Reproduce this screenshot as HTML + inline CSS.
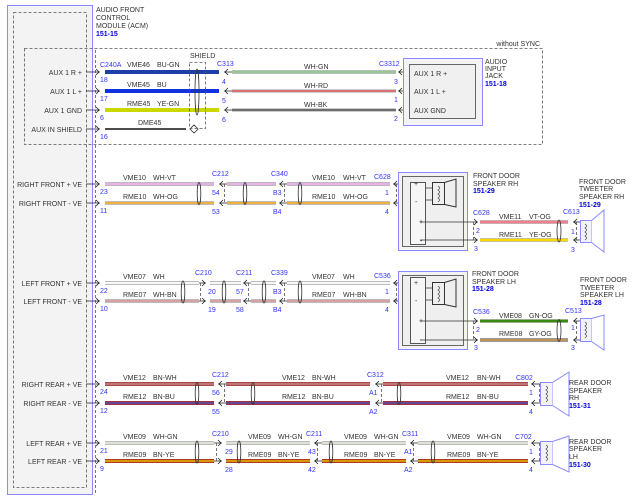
<!DOCTYPE html>
<html><head><meta charset="utf-8"><style>
body{margin:0;background:#fff}
svg{display:block}
text{font-family:"Liberation Sans",sans-serif;font-size:7px;fill:#333}
.b{fill:#3333ff}
.bb{fill:#0000dd;font-weight:bold}
.r{text-anchor:end}
.d{fill:none;stroke:#555;stroke-width:0.8;stroke-dasharray:3,2}
.o{fill:none;stroke:#333;stroke-width:0.8}
.tw{fill:none;stroke:#333;stroke-width:0.8}
</style></head><body>
<svg width="640" height="500" viewBox="0 0 640 500" xmlns="http://www.w3.org/2000/svg">
<!-- module -->
<rect x="7.5" y="5.5" width="85" height="489" fill="#f3f3f3" stroke="#8a8aff" stroke-width="1"/>
<rect x="13.5" y="12.5" width="73" height="475" class="d"/>
<line x1="95.5" y1="50" x2="95.5" y2="495" class="d"/>
<text x="96" y="12">AUDIO FRONT</text><text x="96" y="20">CONTROL</text><text x="96" y="28">MODULE (ACM)</text><text x="96" y="36" class="bb">151-15</text>
<rect x="24.5" y="48.5" width="518" height="96" class="d"/>
<text x="540" y="46" class="r">without SYNC</text>

<g>
<text x="82" y="75" class="r">AUX 1 R +</text><text x="82" y="94" class="r">AUX 1 L +</text><text x="82" y="113" class="r">AUX 1 GND</text><text x="82" y="132" class="r">AUX IN SHIELD</text>
<text x="82" y="187" class="r">RIGHT FRONT + VE</text><text x="82" y="206" class="r">RIGHT FRONT - VE</text>
<text x="82" y="286" class="r">LEFT FRONT + VE</text><text x="82" y="304" class="r">LEFT FRONT - VE</text>
<text x="82" y="387" class="r">RIGHT REAR + VE</text><text x="82" y="406" class="r">RIGHT REAR - VE</text>
<text x="82" y="446" class="r">LEFT REAR + VE</text><text x="82" y="464" class="r">LEFT REAR - VE</text>
</g>
<g stroke="#222" stroke-width="0.8" fill="none">
<path d="M86,72H100M96,69l3,3l-3,3M86,91H100M96,88l3,3l-3,3M86,110H100M96,107l3,3l-3,3M86,129H100M96,126l3,3l-3,3"/>
<path d="M86,184H100M96,181l3,3l-3,3M86,203H100M96,200l3,3l-3,3M86,283H100M96,280l3,3l-3,3M86,301H100M96,298l3,3l-3,3"/>
<path d="M86,384H100M96,381l3,3l-3,3M86,403H100M96,400l3,3l-3,3M86,443H100M96,440l3,3l-3,3M86,461H100M96,458l3,3l-3,3"/>
</g>
<g>
<text x="100" y="82" class="b">18</text><text x="100" y="101" class="b">17</text><text x="100" y="120" class="b">6</text><text x="100" y="139" class="b">16</text>
<text x="100" y="194" class="b">23</text><text x="100" y="213" class="b">11</text><text x="100" y="293" class="b">22</text><text x="100" y="311" class="b">10</text>
<text x="100" y="394" class="b">24</text><text x="100" y="413" class="b">12</text><text x="100" y="453" class="b">21</text><text x="100" y="471" class="b">9</text>
</g>

<!-- TOP SECTION wires -->
<g stroke-linecap="butt">
<line x1="105" y1="72" x2="219" y2="72" stroke="#1f3fa8" stroke-width="4"/>
<line x1="105" y1="91" x2="219" y2="91" stroke="#1133dd" stroke-width="4"/>
<line x1="105" y1="110" x2="219" y2="110" stroke="#c8d800" stroke-width="4"/>
<line x1="105" y1="129" x2="186" y2="129" stroke="#111" stroke-width="1.6"/>
<line x1="232" y1="72" x2="396" y2="72" stroke="#bbb" stroke-width="4"/><line x1="232" y1="72" x2="396" y2="72" stroke="#88cc88" stroke-width="1.5"/>
<line x1="232" y1="91" x2="396" y2="91" stroke="#ccc" stroke-width="4"/><line x1="232" y1="91" x2="396" y2="91" stroke="#e04040" stroke-width="1.2"/>
<line x1="232" y1="110" x2="396" y2="110" stroke="#ccc" stroke-width="4"/><line x1="232" y1="110" x2="396" y2="110" stroke="#333" stroke-width="1.2"/>
</g>
<path d="M190,129l4,-4l4,4l-4,4z" fill="#fff" stroke="#333" stroke-width="0.8"/>
<rect x="189.5" y="62.5" width="16" height="66" class="d"/>
<ellipse cx="197" cy="92" rx="2" ry="23" class="tw"/>
<text x="190" y="58">SHIELD</text>
<text x="100" y="67" class="b">C240A</text><text x="127" y="67">VME46</text><text x="157" y="67">BU-GN</text>
<text x="127" y="87">VME45</text><text x="157" y="87">BU</text>
<text x="127" y="106">RME45</text><text x="157" y="106">YE-GN</text>
<text x="138" y="125">DME45</text>
<text x="217" y="66" class="b">C313</text>
<text x="222" y="84" class="b">4</text><text x="222" y="103" class="b">5</text><text x="222" y="122" class="b">6</text>
<text x="304" y="69">WH-GN</text><text x="304" y="88">WH-RD</text><text x="304" y="107">WH-BK</text>
<text x="379" y="66" class="b">C3312</text>
<text x="394" y="84" class="b">3</text><text x="394" y="102" class="b">1</text><text x="394" y="121" class="b">2</text>
<g stroke="#222" stroke-width="0.8" fill="none">
<path d="M232,72H224M228,69l-3,3l3,3M232,91H224M228,88l-3,3l3,3M232,110H224M228,107l-3,3l3,3"/>
<path d="M408,72H398M402,69l-3,3l3,3M408,91H398M402,88l-3,3l3,3M408,110H398M402,107l-3,3l3,3"/>
</g>
<rect x="403.5" y="58.5" width="79" height="67" fill="#f3f3f3" stroke="#8a8aff"/>
<rect x="409.5" y="64.5" width="66" height="54" fill="#f0f0f0" stroke="#666"/>
<text x="414" y="76">AUX 1 R +</text><text x="414" y="94">AUX 1 L +</text><text x="414" y="113">AUX GND</text>
<text x="485" y="64">AUDIO</text><text x="485" y="71">INPUT</text><text x="485" y="78">JACK</text><text x="485" y="86" class="bb">151-18</text>

<!-- RIGHT FRONT -->
<g>
<line x1="105" y1="184" x2="214" y2="184" stroke="#bbb" stroke-width="4"/><line x1="105" y1="184" x2="214" y2="184" stroke="#e8b0e8" stroke-width="2"/>
<line x1="105" y1="203" x2="214" y2="203" stroke="#bbb" stroke-width="4"/><line x1="105" y1="203" x2="214" y2="203" stroke="#f0b040" stroke-width="2"/>
<line x1="227" y1="184" x2="276" y2="184" stroke="#bbb" stroke-width="4"/><line x1="227" y1="184" x2="276" y2="184" stroke="#e8b0e8" stroke-width="2"/>
<line x1="227" y1="203" x2="276" y2="203" stroke="#bbb" stroke-width="4"/><line x1="227" y1="203" x2="276" y2="203" stroke="#f0b040" stroke-width="2"/>
<line x1="287" y1="184" x2="390" y2="184" stroke="#bbb" stroke-width="4"/><line x1="287" y1="184" x2="390" y2="184" stroke="#e8b0e8" stroke-width="2"/>
<line x1="287" y1="203" x2="390" y2="203" stroke="#bbb" stroke-width="4"/><line x1="287" y1="203" x2="390" y2="203" stroke="#f0b040" stroke-width="2"/>
</g>
<ellipse cx="199" cy="193.5" rx="1.8" ry="11" class="tw"/><ellipse cx="245" cy="193.5" rx="1.8" ry="11" class="tw"/><ellipse cx="300" cy="193.5" rx="1.8" ry="11" class="tw"/>
<g stroke="#222" stroke-width="0.8" fill="none">
<path d="M227,184H219M223,181l-3,3l3,3M227,203H219M223,200l-3,3l3,3M287,184H279M283,181l-3,3l3,3M287,203H279M283,200l-3,3l3,3M410,184H393M397,181l-3,3l3,3M410,203H393M397,200l-3,3l3,3"/>
</g>
<line x1="224.5" y1="184" x2="224.5" y2="203" class="d"/><line x1="284.5" y1="184" x2="284.5" y2="203" class="d"/><line x1="396.5" y1="184" x2="396.5" y2="203" class="d"/>
<text x="123" y="180">VME10</text><text x="153" y="180">WH-VT</text><text x="123" y="199">RME10</text><text x="153" y="199">WH-OG</text>
<text x="212" y="176" class="b">C212</text><text x="212" y="195" class="b">54</text><text x="212" y="214" class="b">53</text>
<text x="271" y="176" class="b">C340</text><text x="273" y="195" class="b">B3</text><text x="273" y="214" class="b">B4</text>
<text x="312" y="180">VME10</text><text x="343" y="180">WH-VT</text><text x="312" y="199">RME10</text><text x="343" y="199">WH-OG</text>
<text x="374" y="179" class="b">C628</text><text x="385" y="195" class="b">1</text><text x="385" y="214" class="b">4</text>
<rect x="398.5" y="172.5" width="69" height="78" fill="#f3f3f3" stroke="#8a8aff"/>
<rect x="402.5" y="176.5" width="61" height="70" fill="#efefef" stroke="#666"/>
<rect x="410.5" y="182.5" width="15" height="62" fill="#f6f6f6" stroke="#555"/>
<text x="414" y="186">+</text><text x="415" y="204">-</text><text x="419" y="224">+</text><text x="420" y="243">-</text>
<rect x="432.5" y="182.5" width="12" height="22" fill="none" stroke="#333"/>
<path d="M444.5,182.5L456,179V207L444.5,204.5" fill="none" stroke="#333"/>
<path d="M426,188H432M426,200H432M438,186q3,2 0,4q3,2 0,4q3,2 0,4q3,2 0,4" fill="none" stroke="#333" stroke-width="0.7"/>
<path d="M420,222H472M420,240H472" stroke="#333" stroke-width="0.8"/>
<g stroke="#222" stroke-width="0.8" fill="none"><path d="M472,222H478M474,219l3,3l-3,3M472,240H478M474,237l3,3l-3,3M584,222H573M577,219l-3,3l3,3M584,240H573M577,237l-3,3l3,3"/></g>
<line x1="473.5" y1="222" x2="473.5" y2="240" class="d"/><line x1="576.5" y1="222" x2="576.5" y2="240" class="d"/>
<line x1="480" y1="222" x2="568" y2="222" stroke="#bbb" stroke-width="4"/><line x1="480" y1="222" x2="568" y2="222" stroke="#ee8090" stroke-width="2.5"/>
<line x1="480" y1="240" x2="568" y2="240" stroke="#bbb" stroke-width="4"/><line x1="480" y1="240" x2="568" y2="240" stroke="#f8d800" stroke-width="2.5"/>
<ellipse cx="559" cy="231" rx="2" ry="11" class="tw"/>
<text x="473" y="215" class="b">C628</text><text x="476" y="233" class="b">2</text><text x="474" y="251" class="b">3</text>
<text x="499" y="219">VME11</text><text x="529" y="219">VT-OG</text><text x="499" y="237">RME11</text><text x="529" y="237">YE-OG</text>
<text x="563" y="214" class="b">C613</text><text x="571" y="234" class="b">1</text><text x="571" y="252" class="b">3</text>
<rect x="580.5" y="220.5" width="11" height="22" fill="#f3f3f3" stroke="#8a8aff"/>
<path d="M591.5,220.5L604,210V252L591.5,242.5" fill="#fff" stroke="#8a8aff"/>
<path d="M585,224q3,2 0,4q3,2 0,4q3,2 0,4q3,2 0,4" fill="none" stroke="#333" stroke-width="0.7"/>
<text x="473" y="178">FRONT DOOR</text><text x="473" y="186">SPEAKER RH</text><text x="473" y="193" class="bb">151-29</text>
<text x="579" y="184">FRONT DOOR</text><text x="579" y="191">TWEETER</text><text x="579" y="199">SPEAKER RH</text><text x="579" y="207" class="bb">151-29</text>

<!-- LEFT FRONT -->
<g>
<line x1="105" y1="283" x2="199" y2="283" stroke="#bbb" stroke-width="4"/><line x1="105" y1="283" x2="199" y2="283" stroke="#f8f8f8" stroke-width="2"/>
<line x1="105" y1="301" x2="199" y2="301" stroke="#bbb" stroke-width="4"/><line x1="105" y1="301" x2="199" y2="301" stroke="#d8a0a0" stroke-width="2"/>
<line x1="210" y1="283" x2="241" y2="283" stroke="#bbb" stroke-width="4"/><line x1="210" y1="283" x2="241" y2="283" stroke="#f8f8f8" stroke-width="2"/>
<line x1="210" y1="301" x2="241" y2="301" stroke="#bbb" stroke-width="4"/><line x1="210" y1="301" x2="241" y2="301" stroke="#d8a0a0" stroke-width="2"/>
<line x1="251" y1="283" x2="276" y2="283" stroke="#bbb" stroke-width="4"/><line x1="251" y1="283" x2="276" y2="283" stroke="#f8f8f8" stroke-width="2"/>
<line x1="251" y1="301" x2="276" y2="301" stroke="#bbb" stroke-width="4"/><line x1="251" y1="301" x2="276" y2="301" stroke="#d8a0a0" stroke-width="2"/>
<line x1="287" y1="283" x2="390" y2="283" stroke="#bbb" stroke-width="4"/><line x1="287" y1="283" x2="390" y2="283" stroke="#f8f8f8" stroke-width="2"/>
<line x1="287" y1="301" x2="390" y2="301" stroke="#bbb" stroke-width="4"/><line x1="287" y1="301" x2="390" y2="301" stroke="#d8a0a0" stroke-width="2"/>
</g>
<ellipse cx="183" cy="292" rx="1.8" ry="11" class="tw"/><ellipse cx="224" cy="292" rx="1.8" ry="11" class="tw"/><ellipse cx="264" cy="292" rx="1.8" ry="11" class="tw"/><ellipse cx="300" cy="292" rx="1.8" ry="11" class="tw"/>
<g stroke="#222" stroke-width="0.8" fill="none">
<path d="M199,283H206M202,280l3,3l-3,3M199,301H206M202,298l3,3l-3,3M251,283H243M247,280l-3,3l3,3M251,301H243M247,298l-3,3l3,3M287,283H279M283,280l-3,3l3,3M287,301H279M283,298l-3,3l3,3M410,283H393M397,280l-3,3l3,3M410,301H393M397,298l-3,3l3,3"/>
</g>
<line x1="200.5" y1="283" x2="200.5" y2="301" class="d"/><line x1="248.5" y1="283" x2="248.5" y2="301" class="d"/><line x1="284.5" y1="283" x2="284.5" y2="301" class="d"/><line x1="396.5" y1="283" x2="396.5" y2="301" class="d"/>
<text x="123" y="279">VME07</text><text x="153" y="279">WH</text><text x="123" y="297">RME07</text><text x="153" y="297">WH-BN</text>
<text x="195" y="275" class="b">C210</text><text x="208" y="294" class="b">20</text><text x="208" y="312" class="b">19</text>
<text x="236" y="275" class="b">C211</text><text x="236" y="294" class="b">57</text><text x="236" y="312" class="b">58</text>
<text x="271" y="275" class="b">C339</text><text x="273" y="294" class="b">B3</text><text x="273" y="312" class="b">B4</text>
<text x="312" y="279">VME07</text><text x="343" y="279">WH</text><text x="312" y="297">RME07</text><text x="343" y="297">WH-BN</text>
<text x="374" y="278" class="b">C536</text><text x="385" y="294" class="b">1</text><text x="385" y="312" class="b">4</text>
<rect x="398.5" y="271.5" width="69" height="78" fill="#f3f3f3" stroke="#8a8aff"/>
<rect x="402.5" y="275.5" width="61" height="70" fill="#efefef" stroke="#666"/>
<rect x="410.5" y="277.5" width="15" height="66" fill="#f6f6f6" stroke="#555"/>
<text x="414" y="285">+</text><text x="415" y="303">-</text><text x="419" y="323">+</text><text x="420" y="342">-</text>
<rect x="432.5" y="282.5" width="12" height="22" fill="none" stroke="#333"/>
<path d="M444.5,282.5L456,279V307L444.5,304.5" fill="none" stroke="#333"/>
<path d="M426,288H432M426,300H432M438,286q3,2 0,4q3,2 0,4q3,2 0,4q3,2 0,4" fill="none" stroke="#333" stroke-width="0.7"/>
<path d="M420,321H472M420,340H472" stroke="#333" stroke-width="0.8"/>
<g stroke="#222" stroke-width="0.8" fill="none"><path d="M472,321H478M474,318l3,3l-3,3M472,340H478M474,337l3,3l-3,3M584,321H573M577,318l-3,3l3,3M584,340H573M577,337l-3,3l3,3"/></g>
<line x1="473.5" y1="321" x2="473.5" y2="340" class="d"/><line x1="576.5" y1="321" x2="576.5" y2="340" class="d"/>
<line x1="480" y1="321" x2="568" y2="321" stroke="#bbb" stroke-width="4"/><line x1="480" y1="321" x2="568" y2="321" stroke="#3a8a10" stroke-width="2.5"/>
<line x1="480" y1="340" x2="568" y2="340" stroke="#999" stroke-width="4"/><line x1="480" y1="340" x2="568" y2="340" stroke="#d09040" stroke-width="1.5"/>
<ellipse cx="559" cy="330.5" rx="2" ry="11" class="tw"/>
<text x="473" y="314" class="b">C536</text><text x="476" y="332" class="b">2</text><text x="474" y="350" class="b">3</text>
<text x="499" y="318">VME08</text><text x="529" y="318">GN-OG</text><text x="499" y="336">RME08</text><text x="529" y="336">GY-OG</text>
<text x="565" y="313" class="b">C513</text><text x="571" y="330" class="b">1</text><text x="571" y="350" class="b">3</text>
<rect x="580.5" y="318.5" width="11" height="23" fill="#f3f3f3" stroke="#8a8aff"/>
<path d="M591.5,318.5L604,315V350L591.5,341.5" fill="#fff" stroke="#8a8aff"/>
<path d="M585,322q3,2 0,4q3,2 0,4q3,2 0,4q3,2 0,4" fill="none" stroke="#333" stroke-width="0.7"/>
<text x="472" y="276">FRONT DOOR</text><text x="472" y="284">SPEAKER LH</text><text x="472" y="291" class="bb">151-28</text>
<text x="580" y="282">FRONT DOOR</text><text x="580" y="290">TWEETER</text><text x="580" y="297">SPEAKER LH</text><text x="580" y="305" class="bb">151-28</text>

<!-- RIGHT REAR -->
<g>
<line x1="105" y1="384" x2="214" y2="384" stroke="#a84848" stroke-width="4"/><line x1="105" y1="384" x2="214" y2="384" stroke="#e8c0c0" stroke-width="0.8"/>
<line x1="105" y1="403" x2="214" y2="403" stroke="#a03040" stroke-width="4"/><line x1="105" y1="403" x2="214" y2="403" stroke="#5050b0" stroke-width="1.5"/>
<line x1="226" y1="384" x2="370" y2="384" stroke="#a84848" stroke-width="4"/><line x1="226" y1="384" x2="370" y2="384" stroke="#e8c0c0" stroke-width="0.8"/>
<line x1="226" y1="403" x2="370" y2="403" stroke="#a03040" stroke-width="4"/><line x1="226" y1="403" x2="370" y2="403" stroke="#5050b0" stroke-width="1.5"/>
<line x1="383" y1="384" x2="528" y2="384" stroke="#a84848" stroke-width="4"/><line x1="383" y1="384" x2="528" y2="384" stroke="#e8c0c0" stroke-width="0.8"/>
<line x1="383" y1="403" x2="528" y2="403" stroke="#a03040" stroke-width="4"/><line x1="383" y1="403" x2="528" y2="403" stroke="#5050b0" stroke-width="1.5"/>
</g>
<ellipse cx="197" cy="393.5" rx="1.8" ry="11" class="tw"/><ellipse cx="253" cy="393.5" rx="1.8" ry="11" class="tw"/><ellipse cx="399" cy="393.5" rx="1.8" ry="11" class="tw"/>
<g stroke="#222" stroke-width="0.8" fill="none">
<path d="M226,384H218M222,381l-3,3l3,3M226,403H218M222,400l-3,3l3,3M383,384H375M379,381l-3,3l3,3M383,403H375M379,400l-3,3l3,3M541,384H531M535,381l-3,3l3,3M541,403H531M535,400l-3,3l3,3"/>
</g>
<line x1="224.5" y1="384" x2="224.5" y2="403" class="d"/><line x1="381.5" y1="384" x2="381.5" y2="403" class="d"/><line x1="539.5" y1="384" x2="539.5" y2="403" class="d"/>
<text x="123" y="380">VME12</text><text x="153" y="380">BN-WH</text><text x="123" y="399">RME12</text><text x="153" y="399">BN-BU</text>
<text x="212" y="377" class="b">C212</text><text x="212" y="395" class="b">56</text><text x="212" y="414" class="b">55</text>
<text x="282" y="380">VME12</text><text x="312" y="380">BN-WH</text><text x="282" y="399">RME12</text><text x="312" y="399">BN-BU</text>
<text x="367" y="377" class="b">C312</text><text x="369" y="395" class="b">A1</text><text x="369" y="414" class="b">A2</text>
<text x="446" y="380">VME12</text><text x="477" y="380">BN-WH</text><text x="446" y="399">RME12</text><text x="477" y="399">BN-BU</text>
<text x="516" y="380" class="b">C802</text><text x="529" y="395" class="b">1</text><text x="529" y="414" class="b">4</text>
<rect x="540.5" y="382.5" width="12" height="23" fill="#f3f3f3" stroke="#8a8aff"/>
<path d="M552.5,382.5L569,372V416L552.5,405.5" fill="#fff" stroke="#8a8aff"/>
<path d="M546,386q3,2 0,4q3,2 0,4q3,2 0,4q3,2 0,4" fill="none" stroke="#333" stroke-width="0.7"/>
<text x="569" y="385">REAR DOOR</text><text x="569" y="393">SPEAKER</text><text x="569" y="400">RH</text><text x="569" y="408" class="bb">151-31</text>

<!-- LEFT REAR -->
<g>
<line x1="105" y1="443" x2="214" y2="443" stroke="#bbb" stroke-width="4"/><line x1="105" y1="443" x2="214" y2="443" stroke="#e8f0e0" stroke-width="1.5"/>
<line x1="105" y1="461" x2="214" y2="461" stroke="#b03a20" stroke-width="4"/><line x1="105" y1="461" x2="214" y2="461" stroke="#f0d000" stroke-width="1.2"/>
<line x1="226" y1="443" x2="310" y2="443" stroke="#bbb" stroke-width="4"/><line x1="226" y1="443" x2="310" y2="443" stroke="#e8f0e0" stroke-width="1.5"/>
<line x1="226" y1="461" x2="310" y2="461" stroke="#b03a20" stroke-width="4"/><line x1="226" y1="461" x2="310" y2="461" stroke="#f0d000" stroke-width="1.2"/>
<line x1="322" y1="443" x2="406" y2="443" stroke="#bbb" stroke-width="4"/><line x1="322" y1="443" x2="406" y2="443" stroke="#e8f0e0" stroke-width="1.5"/>
<line x1="322" y1="461" x2="406" y2="461" stroke="#b03a20" stroke-width="4"/><line x1="322" y1="461" x2="406" y2="461" stroke="#f0d000" stroke-width="1.2"/>
<line x1="418" y1="443" x2="528" y2="443" stroke="#bbb" stroke-width="4"/><line x1="418" y1="443" x2="528" y2="443" stroke="#e8f0e0" stroke-width="1.5"/>
<line x1="418" y1="461" x2="528" y2="461" stroke="#b03a20" stroke-width="4"/><line x1="418" y1="461" x2="528" y2="461" stroke="#f0d000" stroke-width="1.2"/>
</g>
<ellipse cx="197" cy="452" rx="1.8" ry="11" class="tw"/><ellipse cx="239" cy="452" rx="1.8" ry="11" class="tw"/><ellipse cx="331" cy="452" rx="1.8" ry="11" class="tw"/><ellipse cx="433" cy="452" rx="1.8" ry="11" class="tw"/>
<g stroke="#222" stroke-width="0.8" fill="none">
<path d="M214,443H222M218,440l3,3l-3,3M214,461H222M218,458l3,3l-3,3M322,443H314M318,440l-3,3l3,3M322,461H314M318,458l-3,3l3,3M418,443H410M414,440l-3,3l3,3M418,461H410M414,458l-3,3l3,3M541,443H531M535,440l-3,3l3,3M541,461H531M535,458l-3,3l3,3"/>
</g>
<line x1="216.5" y1="443" x2="216.5" y2="461" class="d"/><line x1="317.5" y1="443" x2="317.5" y2="461" class="d"/><line x1="413.5" y1="443" x2="413.5" y2="461" class="d"/><line x1="539.5" y1="443" x2="539.5" y2="461" class="d"/>
<text x="123" y="439">VME09</text><text x="153" y="439">WH-GN</text><text x="123" y="457">RME09</text><text x="153" y="457">BN-YE</text>
<text x="212" y="436" class="b">C210</text><text x="225" y="454" class="b">29</text><text x="225" y="472" class="b">28</text>
<text x="248" y="439">VME09</text><text x="278" y="439">WH-GN</text><text x="248" y="457">RME09</text><text x="278" y="457">BN-YE</text>
<text x="306" y="436" class="b">C211</text><text x="308" y="454" class="b">43</text><text x="308" y="472" class="b">42</text>
<text x="344" y="439">VME09</text><text x="374" y="439">WH-GN</text><text x="344" y="457">RME09</text><text x="374" y="457">BN-YE</text>
<text x="402" y="436" class="b">C311</text><text x="404" y="454" class="b">A1</text><text x="404" y="472" class="b">A2</text>
<text x="447" y="439">VME09</text><text x="477" y="439">WH-GN</text><text x="447" y="457">RME09</text><text x="477" y="457">BN-YE</text>
<text x="515" y="439" class="b">C702</text><text x="529" y="454" class="b">1</text><text x="529" y="472" class="b">4</text>
<rect x="540.5" y="441.5" width="12" height="23" fill="#f3f3f3" stroke="#8a8aff"/>
<path d="M552.5,441.5L569,436V472L552.5,464.5" fill="#fff" stroke="#8a8aff"/>
<path d="M546,445q3,2 0,4q3,2 0,4q3,2 0,4q3,2 0,4" fill="none" stroke="#333" stroke-width="0.7"/>
<text x="569" y="444">REAR DOOR</text><text x="569" y="451">SPEAKER</text><text x="569" y="459">LH</text><text x="569" y="467" class="bb">151-30</text>
</svg>
</body></html>
